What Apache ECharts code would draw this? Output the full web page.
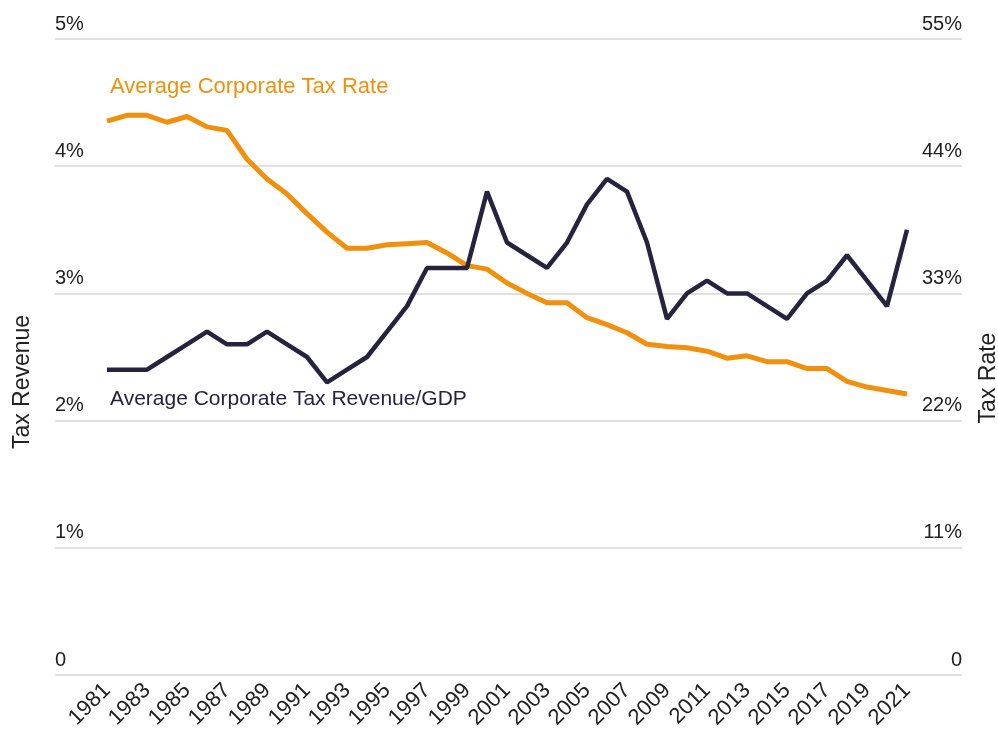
<!DOCTYPE html>
<html>
<head>
<meta charset="utf-8">
<script src="https://cdn.jsdelivr.net/npm/echarts@6/dist/echarts.min.js"></script>
<style>
  html, body { margin: 0; padding: 0; background: #fff; }
  #chart { width: 998px; height: 736px; }
</style>
</head>
<body>
<div id="chart"></div>
<script>
var years = [];
for (var y = 1981; y <= 2021; y++) years.push(y);

var yearLabels = [1981, 1983, 1985, 1987, 1989, 1991, 1993, 1995, 1997, 1999, 2001,
  2003, 2005, 2007, 2009, 2011, 2013, 2015, 2017, 2019, 2021];

// Average corporate tax revenue / GDP (%)
var revenue = [2.4, 2.4, 2.4, 2.5, 2.6, 2.7, 2.6, 2.6, 2.7, 2.6, 2.5,
  2.3, 2.4, 2.5, 2.7, 2.9, 3.2, 3.2, 3.2, 3.8, 3.4,
  3.3, 3.2, 3.4, 3.7, 3.9, 3.8, 3.4, 2.8, 3.0, 3.1,
  3.0, 3.0, 2.9, 2.8, 3.0, 3.1, 3.3, 3.1, 2.9, 3.5];

// Average corporate tax rate (%)
var rate = [47.9, 48.4, 48.4, 47.8, 48.3, 47.4, 47.1, 44.6, 42.9, 41.6, 39.9,
  38.3, 36.9, 36.9, 37.2, 37.3, 37.4, 36.5, 35.4, 35.1, 33.9,
  33.0, 32.2, 32.2, 30.9, 30.3, 29.6, 28.6, 28.4, 28.3, 28.0,
  27.4, 27.6, 27.1, 27.1, 26.5, 26.5, 25.4, 24.9, 24.6, 24.3];

var ORANGE = '#f0900c';
var NAVY = '#26233f';
var FONT = 'Liberation Sans';

function pct(v) { return v === 0 ? '0' : v + '%'; }

var option = {
  animation: false,
  backgroundColor: '#fff',
  textStyle: { fontFamily: FONT },
  grid: { left: 55, right: 36, top: 39, bottom: 61 },
  xAxis: {
    type: 'value',
    min: 1978.4,
    max: 2023.75,
    axisLine: { show: false },
    axisTick: { show: false },
    splitLine: { show: false },
    axisLabel: {
      customValues: yearLabels,
      rotate: 45,
      margin: 12,
      fontSize: 22,
      color: '#222',
      fontFamily: FONT,
      formatter: function (v) { return String(v); }
    }
  },
  yAxis: [
    {
      type: 'value',
      min: 0, max: 5, interval: 1,
      axisLine: { show: false },
      axisTick: { show: false },
      splitLine: { lineStyle: { color: '#d6d6d6', width: 1.5 } },
      axisLabel: {
        inside: true,
        margin: 0,
        verticalAlign: 'bottom',
        padding: [0, 0, 5, 0],
        fontSize: 20,
        color: '#222',
        formatter: pct
      }
    },
    {
      type: 'value',
      min: 0, max: 55, interval: 11,
      axisLine: { show: false },
      axisTick: { show: false },
      splitLine: { show: false },
      axisLabel: {
        inside: true,
        margin: 0,
        verticalAlign: 'bottom',
        padding: [0, 0, 5, 0],
        fontSize: 20,
        color: '#222',
        formatter: pct
      }
    }
  ],
  graphic: [
    {
      type: 'text', left: 110, top: 76,
      style: { text: 'Average Corporate Tax Rate', fill: ORANGE, font: '22px "Liberation Sans"' }
    },
    {
      type: 'text', left: 110, top: 389,
      style: { text: 'Average Corporate Tax Revenue/GDP', fill: NAVY, font: '21px "Liberation Sans"' }
    },
    {
      type: 'text', x: 23, y: 382, rotation: Math.PI / 2,
      style: { text: 'Tax Revenue', fill: '#222', font: '23px "Liberation Sans"', align: 'center', verticalAlign: 'middle' }
    },
    {
      type: 'text', x: 989, y: 378, rotation: Math.PI / 2,
      style: { text: 'Tax Rate', fill: '#222', font: '23px "Liberation Sans"', align: 'center', verticalAlign: 'middle' }
    }
  ],
  series: [
    {
      name: 'Average Corporate Tax Rate',
      type: 'line',
      yAxisIndex: 1,
      symbol: 'none',
      lineStyle: { color: ORANGE, width: 5 },
      data: years.map(function (yr, i) { return [yr, rate[i]]; })
    },
    {
      name: 'Average Corporate Tax Revenue/GDP',
      type: 'line',
      yAxisIndex: 0,
      symbol: 'none',
      lineStyle: { color: NAVY, width: 4.5 },
      data: years.map(function (yr, i) { return [yr, revenue[i]]; })
    }
  ]
};

var chart = echarts.init(document.getElementById('chart'));
chart.setOption(option);
window.addEventListener('resize', function () { chart.resize(); });
</script>
</body>
</html>
